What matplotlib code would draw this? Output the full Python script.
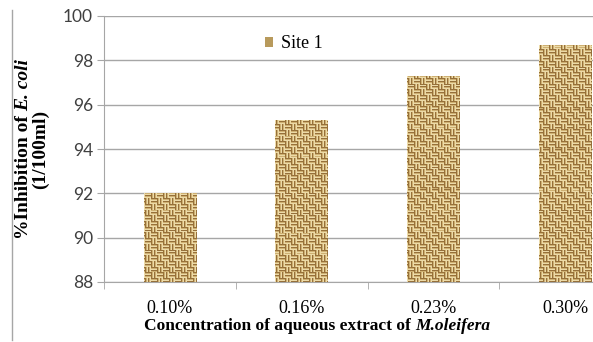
import matplotlib
matplotlib.use("Agg")
import matplotlib.pyplot as plt
import numpy as np
from matplotlib.patches import Patch
from matplotlib.lines import Line2D

# data
categories = ["0.10%", "0.16%", "0.23%", "0.30%"]
site1 = [92.0, 95.3, 97.3, 98.7]
yticks = [88, 90, 92, 94, 96, 98, 100]

W, H = 593, 342
fig = plt.figure(figsize=(W / 100, H / 100), dpi=100)
# plot area runs past the right edge of the picture, like the original crop
ax = fig.add_axes([104 / W, 1 - 282 / H, (631 - 104) / W, (282 - 16) / H])

x = np.arange(len(categories))
bars = ax.bar(x, site1, width=0.4, bottom=0, color="#c9ad74", zorder=2)

# woven burlap texture, clipped to each bar
cell = 6
ny, nx = 280, 540
yy, xx = np.mgrid[0:ny, 0:nx]
horiz = ((xx // cell) + (yy // cell)) % 2 == 0
stripe = np.where(horiz, yy % 3, xx % 3)
light = np.array([236, 218, 168]) / 255
mid = np.array([206, 176, 114]) / 255
dark = np.array([150, 112, 58]) / 255
tex = np.where((stripe == 0)[..., None], dark, np.where((stripe == 1)[..., None], mid, light))
for b in bars:
    im = ax.imshow(tex, extent=(-0.5, len(categories) - 0.5, 88, 100), origin="upper",
                   aspect="auto", interpolation="nearest", zorder=3)
    im.set_clip_path(b)
ax.set_xlim(-0.5, len(categories) - 0.5)
ax.set_ylim(88, 100)

ax.set_yticks(yticks)
ax.yaxis.grid(True, color="#a6a6a6", lw=1)
ax.set_axisbelow(True)
for s in ["top", "right"]:
    ax.spines[s].set_visible(False)
ax.spines["left"].set_color("#a6a6a6")
ax.spines["bottom"].set_color("#a6a6a6")
ax.tick_params(axis="y", length=5, color="#a6a6a6", pad=3, labelsize=12.5, labelcolor="#404040")
for t in ax.get_yticklabels():
    t.set_fontfamily("Lato")

ax.set_xticks(x)
ax.set_xticklabels(categories, fontfamily="Liberation Serif", fontsize=13)
ax.tick_params(axis="x", which="major", length=0, pad=13)
ax.set_xticks(np.arange(-0.5, len(categories)), minor=True)
ax.tick_params(axis="x", which="minor", length=5, color="#a6a6a6")

leg = ax.legend([Patch(facecolor="#b89a5c", edgecolor="none")], ["Site 1"],
                loc="center left", bbox_to_anchor=(0.275, 0.895), frameon=False,
                handlelength=0.45, handleheight=0.45, handletextpad=0.4,
                prop={"family": "Liberation Serif", "size": 13})


def run_of_text(parts, cx, cy, size, vertical=False):
    # parts: list of (string, style); laid end to end, centred on (cx, cy) in pixels
    rend = fig.canvas.get_renderer()
    texts = []
    for s, style in parts:
        t = fig.text(0, 0, s, fontfamily="Liberation Serif", fontweight="bold",
                     fontstyle=style, fontsize=size, rotation=90 if vertical else 0,
                     ha="left" if not vertical else "center",
                     va="center" if not vertical else "bottom")
        texts.append(t)
    lens = []
    for t in texts:
        bb = t.get_window_extent(rend)
        lens.append(bb.height if vertical else bb.width)
    pos = -sum(lens) / 2
    for t, L in zip(texts, lens):
        if vertical:
            t.set_position((cx / W, 1 - (cy - pos) / H))
        else:
            t.set_position(((cx + pos) / W, 1 - cy / H))
        pos += L


run_of_text([("%Inhibition of ", "normal"), ("E. coli", "italic")], 24, 149, 14, vertical=True)
run_of_text([("(1/100ml)", "normal")], 40, 149, 14, vertical=True)
run_of_text([("Concentration of aqueous extract of ", "normal"), ("M.oleifera", "italic")],
            317, 326, 12.5)

fig.add_artist(Line2D([12 / W, 12 / W], [1 - 10 / H, 1 - 340 / H], color="#a6a6a6", lw=1))

fig.savefig("out.png", dpi=100)
